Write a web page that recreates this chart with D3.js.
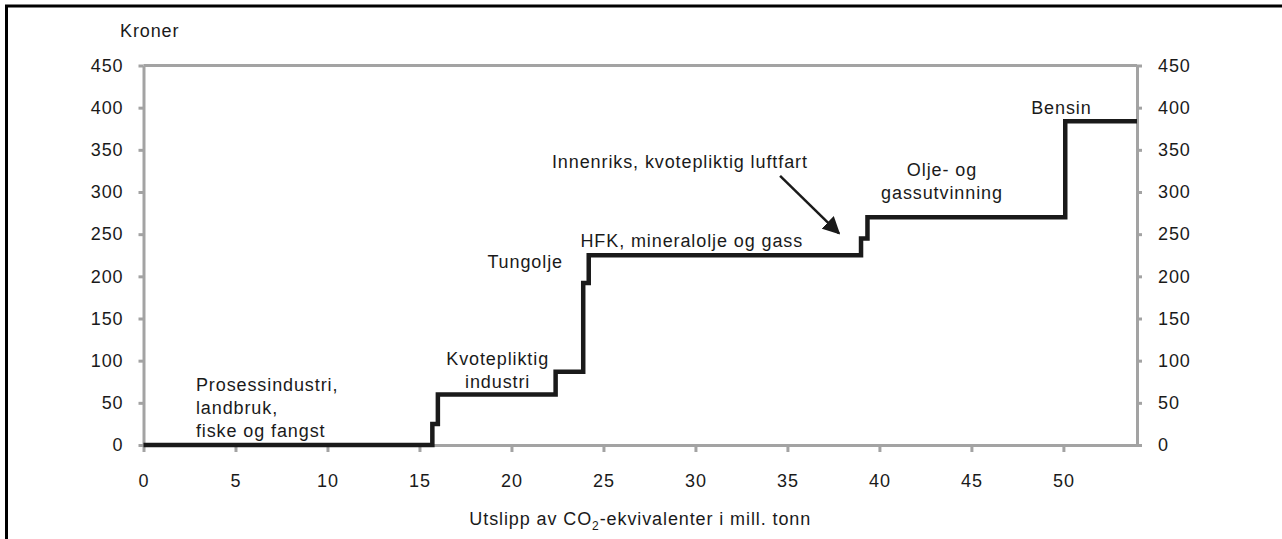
<!DOCTYPE html>
<html><head><meta charset="utf-8">
<script src="https://cdn.jsdelivr.net/npm/d3@7"></script>
<style>
html,body{margin:0;padding:0;background:#fff;}
text{font-family:"Liberation Sans",Arial,sans-serif;fill:#1a1a1a;letter-spacing:0.9px;}
</style></head>
<body>
<svg id="c" width="1282" height="539"></svg>
<script>
// Cumulative emissions (mill. tonn) where each price step begins
const stepStart = [0, 15.7, 16.0, 22.4, 23.9, 24.2, 39.0, 39.35, 50.1, 54];
// Price (kroner) for each step
const price = [0, 25, 60, 87, 192, 225, 245, 270, 384, 384];
const xTicks = [0, 5, 10, 15, 20, 25, 30, 35, 40, 45, 50];
const yTicks = [0, 50, 100, 150, 200, 250, 300, 350, 400, 450];
const labels = [
  {lines:["Prosessindustri,","landbruk,","fiske og fangst"], x:2.85, y:64, anchor:"start"},
  {lines:["Kvotepliktig","industri"], x:19.25, y:95, anchor:"middle"},
  {lines:["Tungolje"], x:22.8, y:210, anchor:"end"},
  {lines:["HFK, mineralolje og gass"], x:23.75, y:235, anchor:"start"},
  {lines:["Innenriks, kvotepliktig luftfart"], x:22.2, y:329, anchor:"start"},
  {lines:["Olje- og","gassutvinning"], x:43.4, y:319, anchor:"middle"},
  {lines:["Bensin"], x:48.25, y:393, anchor:"start"}
];

const svg = d3.select("#c");
const W = 1282, H = 539;
const L = 143.5, R = 1137, T = 65.5, B = 445;
const x = d3.scaleLinear().domain([0, 54]).range([L, R]);
const y = d3.scaleLinear().domain([0, 450]).range([B, T]);
const axisColor = "#a3a3a3";
const fs = 18;

// outer frame
svg.append("rect").attr("x",6.5).attr("y",6).attr("width",W+20).attr("height",H+20)
  .attr("fill","none").attr("stroke","#000").attr("stroke-width",3);

function styleAxis(g){
  g.select(".domain").attr("stroke",axisColor).attr("stroke-width",3);
  g.selectAll(".tick line").attr("stroke",axisColor).attr("stroke-width",3);
  g.selectAll(".tick text").style("font-size",fs+"px").style("font-family","Liberation Sans, Arial, sans-serif").attr("fill","#1a1a1a");
}

// top border
svg.append("line").attr("x1",L).attr("x2",R).attr("y1",T).attr("y2",T)
  .attr("stroke",axisColor).attr("stroke-width",3);

const gx = svg.append("g").attr("transform",`translate(0,${B})`)
  .call(d3.axisBottom(x).tickValues(xTicks).tickSize(7).tickSizeOuter(0).tickPadding(22));
styleAxis(gx);
const gyl = svg.append("g").attr("transform",`translate(${L},0)`)
  .call(d3.axisLeft(y).tickValues(yTicks).tickSize(5).tickSizeOuter(0).tickPadding(15));
styleAxis(gyl);
const gyr = svg.append("g").attr("transform",`translate(${R},0)`)
  .call(d3.axisRight(y).tickValues(yTicks).tickSize(5).tickSizeOuter(0).tickPadding(16));
styleAxis(gyr);

// step line
const pts = stepStart.map((s,i)=>[s, price[i]]);
svg.append("path").datum(pts)
  .attr("d", d3.line().x(d=>x(d[0])).y(d=>y(d[1])).curve(d3.curveStepAfter))
  .attr("fill","none").attr("stroke","#1a1a1a").attr("stroke-width",4.5)
  .attr("stroke-linejoin","miter").attr("stroke-linecap","butt");

// category labels
labels.forEach(l=>{
  const t = svg.append("text").attr("text-anchor",l.anchor).style("font-size",fs+"px");
  l.lines.forEach((s,i)=>{
    t.append("tspan").attr("x",x(l.x)).attr("y",y(l.y)+i*23).text(s);
  });
});

// arrow
const defs = svg.append("defs");
defs.append("marker").attr("id","ah").attr("viewBox","0 0 10 10").attr("refX",9).attr("refY",5)
  .attr("markerWidth",7).attr("markerHeight",7).attr("orient","auto").attr("markerUnits","strokeWidth")
  .append("path").attr("d","M0,0 L10,5 L0,10 z").attr("fill","#1a1a1a");
svg.append("line").attr("x1",x(34.6)).attr("y1",y(319)).attr("x2",x(37.8)).attr("y2",y(251))
  .attr("stroke","#1a1a1a").attr("stroke-width",2.5).attr("marker-end","url(#ah)");

// axis titles
svg.append("text").attr("x",120).attr("y",37).style("font-size",fs+"px").text("Kroner");
const xt = svg.append("text").attr("x",(L+R)/2).attr("y",525).attr("text-anchor","middle").style("font-size",fs+"px");
xt.append("tspan").text("Utslipp av CO");
xt.append("tspan").attr("dy",5).style("font-size","12px").text("2");
xt.append("tspan").attr("dy",-5).text("-ekvivalenter i mill. tonn");
</script>
</body></html>
